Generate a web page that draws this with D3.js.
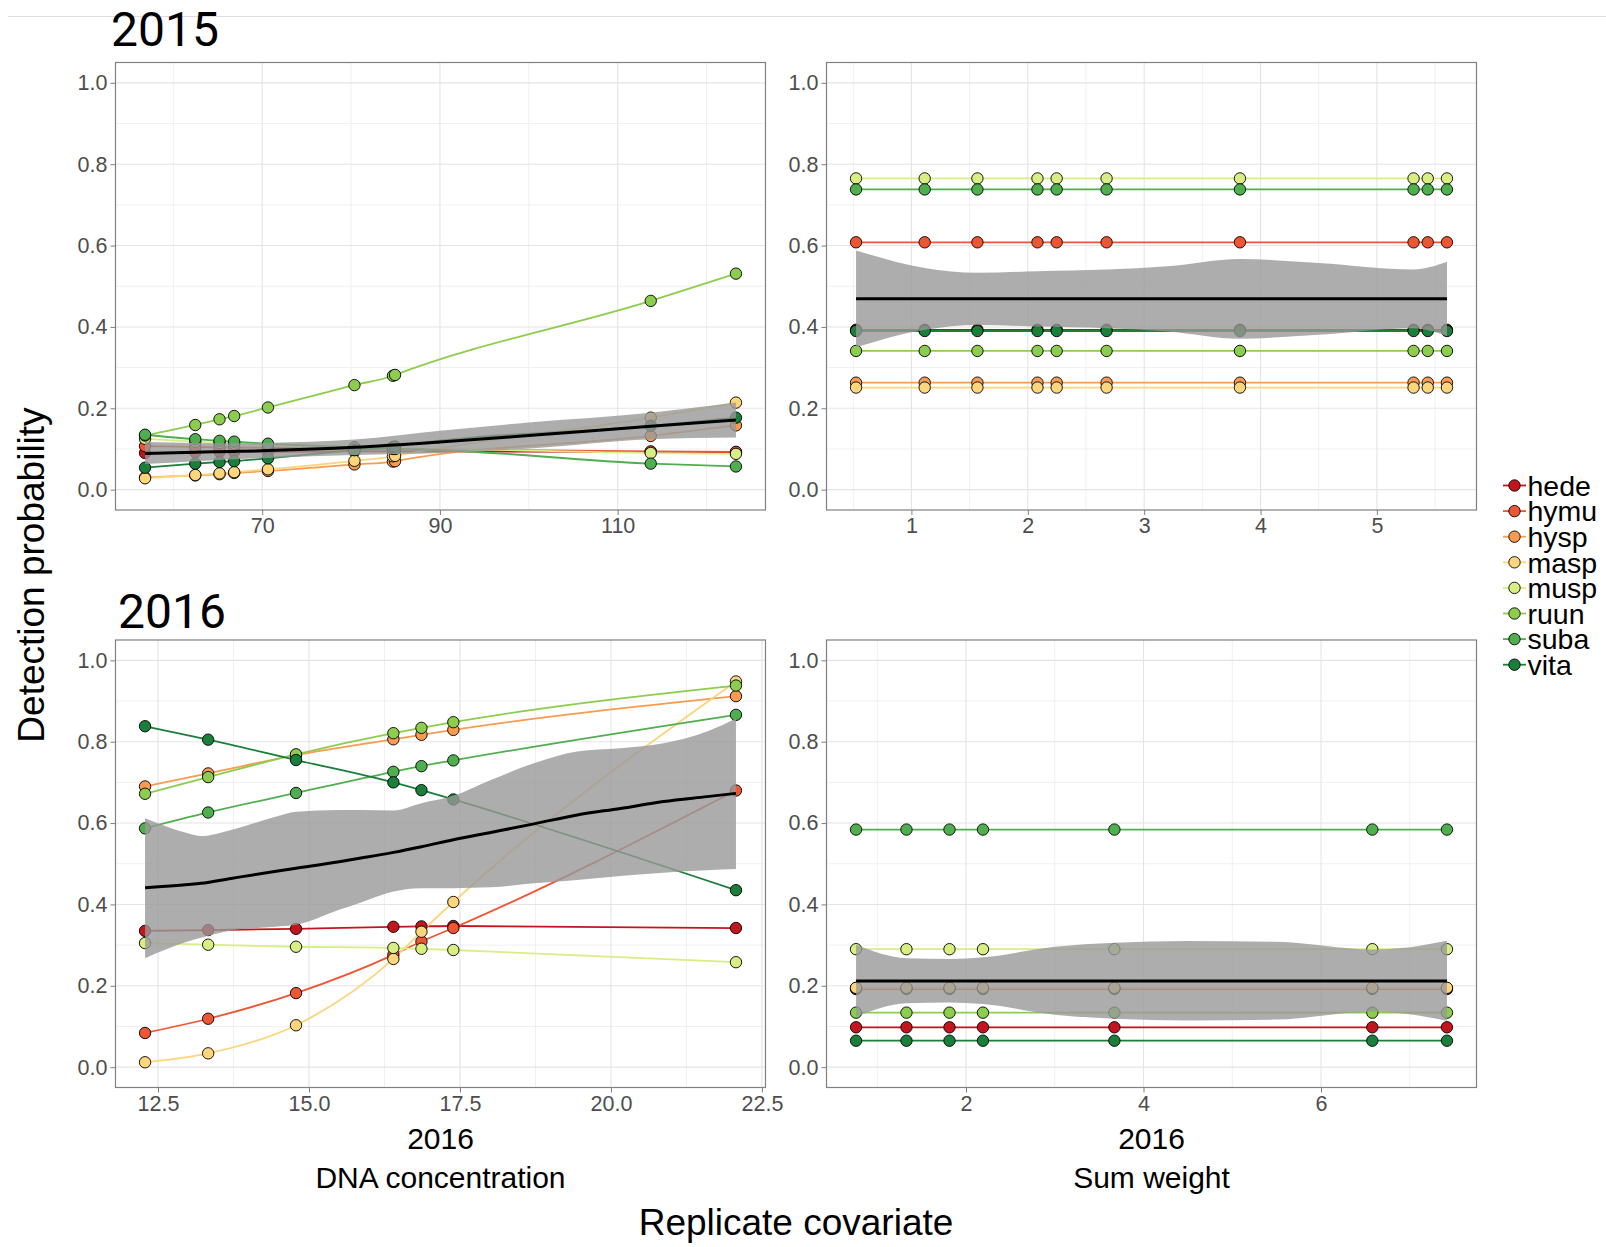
<!DOCTYPE html>
<html><head><meta charset="utf-8">
<script src="https://cdn.jsdelivr.net/npm/d3@7"></script>
<style>body{margin:0;background:#fff;} svg{display:block;}</style>
</head><body>
<svg id="chart" width="1606" height="1247"></svg>
<script>
// ---------------- DATA ----------------
const species = ["hede","hymu","hysp","masp","musp","ruun","suba","vita"];
const speciesColors = ["#c4151f","#ee5533","#f99b50","#fdd57a","#d8ee82","#8dcd4e","#4faf4f","#1a7f3a"];

const yTickValues = [0, 0.2, 0.4, 0.6, 0.8, 1.0];
const yMinorValues = [0.1, 0.3, 0.5, 0.7, 0.9];

// 2015 - DNA concentration
const dna2015X = [56.82, 62.47, 65.2, 66.85, 70.65, 80.38, 84.71, 84.95, 113.72, 123.31];
const dna2015Values = [
  [0.090, 0.092, 0.093, 0.093, 0.093, 0.094, 0.094, 0.094, 0.093, 0.092], // hede
  [0.107, 0.105, 0.104, 0.104, 0.103, 0.100, 0.099, 0.099, 0.094, 0.093], // hymu
  [0.030, 0.035, 0.038, 0.041, 0.046, 0.062, 0.069, 0.070, 0.132, 0.158], // hysp
  [0.028, 0.036, 0.040, 0.043, 0.050, 0.071, 0.082, 0.083, 0.177, 0.214], // masp
  [0.125, 0.118, 0.115, 0.113, 0.110, 0.104, 0.101, 0.101, 0.090, 0.088], // musp
  [0.133, 0.159, 0.173, 0.181, 0.202, 0.257, 0.280, 0.282, 0.464, 0.531], // ruun
  [0.135, 0.124, 0.120, 0.118, 0.113, 0.104, 0.100, 0.100, 0.064, 0.057], // suba
  [0.054, 0.064, 0.068, 0.070, 0.077, 0.097, 0.105, 0.106, 0.157, 0.177]  // vita
];
const dna2015SmoothX = [56.82, 62.47, 66.85, 70.65, 80.38, 90, 100, 113.72, 123.31];
const dna2015Fit   = [0.089, 0.092, 0.094, 0.096, 0.104, 0.117, 0.133, 0.156, 0.171];
const dna2015Upper = [0.117, 0.115, 0.114, 0.115, 0.123, 0.145, 0.165, 0.189, 0.214];
const dna2015Lower = [0.063, 0.070, 0.075, 0.078, 0.085, 0.090, 0.101, 0.124, 0.128];

// 2015 - Sum weight
const weight2015X = [0.524, 1.114, 1.567, 2.083, 2.248, 2.677, 3.823, 5.315, 5.437, 5.602];
const weight2015Values = [
  [0.393, 0.393, 0.393, 0.393, 0.393, 0.393, 0.393, 0.393, 0.393, 0.393], // hede
  [0.608, 0.608, 0.608, 0.608, 0.608, 0.608, 0.608, 0.608, 0.608, 0.608], // hymu
  [0.263, 0.263, 0.263, 0.263, 0.263, 0.263, 0.263, 0.263, 0.263, 0.263], // hysp
  [0.251, 0.251, 0.251, 0.251, 0.251, 0.251, 0.251, 0.251, 0.251, 0.251], // masp
  [0.765, 0.765, 0.765, 0.765, 0.765, 0.765, 0.765, 0.765, 0.765, 0.765], // musp
  [0.341, 0.341, 0.341, 0.341, 0.341, 0.341, 0.341, 0.341, 0.341, 0.341], // ruun
  [0.738, 0.738, 0.738, 0.738, 0.738, 0.738, 0.738, 0.738, 0.738, 0.738], // suba
  [0.390, 0.390, 0.390, 0.390, 0.390, 0.390, 0.390, 0.390, 0.390, 0.390]  // vita
];
const weight2015SmoothX = [0.524, 1.114, 1.567, 2.083, 2.677, 3.2, 3.823, 4.5, 5.315, 5.602];
const weight2015Fit   = [0.469, 0.469, 0.469, 0.469, 0.469, 0.469, 0.469, 0.469, 0.469, 0.469];
const weight2015Upper = [0.588, 0.545, 0.533, 0.537, 0.541, 0.549, 0.567, 0.557, 0.541, 0.560];
const weight2015Lower = [0.350, 0.393, 0.405, 0.401, 0.397, 0.389, 0.371, 0.381, 0.397, 0.378];

// 2016 - DNA concentration
const dna2016X = [12.285, 13.33, 14.785, 16.397, 16.862, 17.39, 22.07];
const dna2016Values = [
  [0.335, 0.337, 0.340, 0.345, 0.346, 0.347, 0.342], // hede
  [0.084, 0.119, 0.182, 0.276, 0.309, 0.342, 0.680], // hymu
  [0.690, 0.722, 0.767, 0.806, 0.817, 0.829, 0.912], // hysp
  [0.012, 0.034, 0.103, 0.266, 0.333, 0.406, 0.948], // masp
  [0.305, 0.301, 0.296, 0.293, 0.291, 0.288, 0.258], // musp
  [0.672, 0.713, 0.769, 0.821, 0.834, 0.848, 0.938], // ruun
  [0.587, 0.626, 0.674, 0.726, 0.740, 0.754, 0.866], // suba
  [0.838, 0.805, 0.755, 0.700, 0.681, 0.658, 0.435]  // vita
];
const dna2016SmoothX = [12.285, 12.994, 13.21, 13.71, 14.43, 14.785, 15.5, 15.86, 16.397, 16.862, 17.39, 18.01, 18.725, 19.44, 20.157, 20.87, 21.59, 22.07];
const dna2016Fit   = [0.441, 0.449, 0.452, 0.464, 0.481, 0.489, 0.505, 0.514, 0.528, 0.542, 0.559, 0.577, 0.598, 0.620, 0.636, 0.653, 0.665, 0.673];
const dna2016Upper = [0.612, 0.575, 0.568, 0.583, 0.615, 0.628, 0.632, 0.632, 0.631, 0.649, 0.667, 0.706, 0.747, 0.776, 0.784, 0.796, 0.825, 0.857];
const dna2016Lower = [0.268, 0.309, 0.318, 0.336, 0.345, 0.350, 0.387, 0.405, 0.432, 0.440, 0.440, 0.442, 0.452, 0.460, 0.470, 0.478, 0.484, 0.487];

// 2016 - Sum weight
const weight2016X = [0.761, 1.329, 1.814, 2.191, 3.672, 6.578, 7.419];
const weight2016Values = [
  [0.098, 0.098, 0.098, 0.098, 0.098, 0.098, 0.098], // hede
  [0.192, 0.192, 0.192, 0.192, 0.192, 0.192, 0.192], // hymu
  [0.194, 0.194, 0.194, 0.194, 0.194, 0.194, 0.194], // hysp
  [0.195, 0.195, 0.195, 0.195, 0.195, 0.195, 0.195], // masp
  [0.290, 0.290, 0.290, 0.290, 0.290, 0.290, 0.290], // musp
  [0.134, 0.134, 0.134, 0.134, 0.134, 0.134, 0.134], // ruun
  [0.584, 0.584, 0.584, 0.584, 0.584, 0.584, 0.584], // suba
  [0.065, 0.065, 0.065, 0.065, 0.065, 0.065, 0.065]  // vita
];
const weight2016SmoothX = [0.761, 1.329, 1.814, 2.191, 3.0, 3.672, 4.5, 5.5, 6.578, 6.87, 7.419];
const weight2016Fit   = [0.212, 0.212, 0.212, 0.212, 0.212, 0.212, 0.212, 0.212, 0.212, 0.212, 0.212];
const weight2016Upper = [0.301, 0.268, 0.266, 0.270, 0.296, 0.306, 0.310, 0.308, 0.289, 0.292, 0.311];
const weight2016Lower = [0.124, 0.157, 0.159, 0.155, 0.129, 0.119, 0.115, 0.117, 0.136, 0.133, 0.114];

const dna2015Ticks = [70, 90, 110], dna2015Minor = [60, 80, 100, 120];
const weight2015Ticks = [1, 2, 3, 4, 5], weight2015Minor = [0.5, 1.5, 2.5, 3.5, 4.5, 5.5];
const dna2016Ticks = [12.5, 15.0, 17.5, 20.0, 22.5], dna2016Minor = [13.75, 16.25, 18.75, 21.25];
const weight2016Ticks = [2, 4, 6], weight2016Minor = [1, 3, 5, 7];

// ---------------- LAYOUT ----------------
const W = 650, H = 447.5;
const tickFont = "'Liberation Sans', Arial, Helvetica, sans-serif";

const panels = [
  {left:115.5, top:62.5, xs:dna2015X, vals:dna2015Values, sx:dna2015SmoothX, fit:dna2015Fit, up:dna2015Upper, lo:dna2015Lower,
   ticks:dna2015Ticks, minor:dna2015Minor, fmt:d3.format("d")},
  {left:826.5, top:62.5, xs:weight2015X, vals:weight2015Values, sx:weight2015SmoothX, fit:weight2015Fit, up:weight2015Upper, lo:weight2015Lower,
   ticks:weight2015Ticks, minor:weight2015Minor, fmt:d3.format("d")},
  {left:115.5, top:640, xs:dna2016X, vals:dna2016Values, sx:dna2016SmoothX, fit:dna2016Fit, up:dna2016Upper, lo:dna2016Lower,
   ticks:dna2016Ticks, minor:dna2016Minor, fmt:d3.format(".1f")},
  {left:826.5, top:640, xs:weight2016X, vals:weight2016Values, sx:weight2016SmoothX, fit:weight2016Fit, up:weight2016Upper, lo:weight2016Lower,
   ticks:weight2016Ticks, minor:weight2016Minor, fmt:d3.format("d")}
];

const svg = d3.select("#chart");
svg.append("rect").attr("width",1606).attr("height",1247).attr("fill","#fff");
svg.append("line").attr("x1",8).attr("x2",1606).attr("y1",16.5).attr("y2",16.5)
  .attr("stroke","#dedede").attr("stroke-width",1);

const y = d3.scaleLinear().domain([-0.05, 1.05]).range([H, 0]);
const R = 5.7;

panels.forEach(p => {
  const ext = d3.extent(p.xs);
  const pad = (ext[1]-ext[0])*0.05;
  const x = d3.scaleLinear().domain([ext[0]-pad, ext[1]+pad]).range([0, W]);
  const g = svg.append("g").attr("transform", `translate(${p.left},${p.top})`);

  // grid
  g.selectAll(".ymin").data(yMinorValues).join("line")
    .attr("x1",0).attr("x2",W).attr("y1",d=>y(d)).attr("y2",d=>y(d))
    .attr("stroke","#f0f0f0").attr("stroke-width",1);
  g.selectAll(".xmin").data(p.minor).join("line")
    .attr("y1",0).attr("y2",H).attr("x1",d=>x(d)).attr("x2",d=>x(d))
    .attr("stroke","#f0f0f0").attr("stroke-width",1);
  g.selectAll(".ymaj").data(yTickValues).join("line")
    .attr("x1",0).attr("x2",W).attr("y1",d=>y(d)).attr("y2",d=>y(d))
    .attr("stroke","#e4e4e4").attr("stroke-width",1.1);
  g.selectAll(".xmaj").data(p.ticks).join("line")
    .attr("y1",0).attr("y2",H).attr("x1",d=>x(d)).attr("x2",d=>x(d))
    .attr("stroke","#e4e4e4").attr("stroke-width",1.1);

  // axes
  const ya = g.append("g").call(d3.axisLeft(y).tickValues(yTickValues).tickFormat(d3.format(".1f")).tickSize(5).tickPadding(3));
  ya.select(".domain").remove();
  ya.selectAll("line").attr("stroke","#7f7f7f");
  ya.selectAll("text").attr("fill","#4d4d4d").style("font-family",tickFont).style("font-size","21.5px");

  const xa = g.append("g").attr("transform",`translate(0,${H})`)
    .call(d3.axisBottom(x).tickValues(p.ticks).tickFormat(p.fmt).tickSize(5).tickPadding(3));
  xa.select(".domain").remove();
  xa.selectAll("line").attr("stroke","#7f7f7f");
  xa.selectAll("text").attr("fill","#4d4d4d").style("font-family",tickFont).style("font-size","21.5px");

  // species lines
  const line = d3.line().x(d=>x(d[0])).y(d=>y(d[1])).curve(d3.curveMonotoneX);
  p.vals.forEach((vals, i) => {
    const pts = p.xs.map((xv, j) => [xv, vals[j]]);
    g.append("path").attr("d", line(pts)).attr("fill","none")
      .attr("stroke", speciesColors[i]).attr("stroke-width", 1.8);
  });
  // points
  p.vals.forEach((vals, i) => {
    const pts = p.xs.map((xv, j) => [xv, vals[j]]);
    g.selectAll(null).data(pts).join("circle")
      .attr("cx", d=>x(d[0])).attr("cy", d=>y(d[1])).attr("r", R)
      .attr("fill", speciesColors[i]).attr("stroke","#000").attr("stroke-width",0.9);
  });

  // smoother ribbon + line
  const rib = p.sx.map((xv,j)=>({x:xv, lo:p.lo[j], up:p.up[j], fit:p.fit[j]}));
  g.append("path").datum(rib)
    .attr("d", d3.area().x(d=>x(d.x)).y0(d=>y(d.lo)).y1(d=>y(d.up)).curve(d3.curveMonotoneX))
    .attr("fill","#999999").attr("fill-opacity",0.8);
  g.append("path").datum(rib)
    .attr("d", d3.line().x(d=>x(d.x)).y(d=>y(d.fit)).curve(d3.curveMonotoneX))
    .attr("fill","none").attr("stroke","#000").attr("stroke-width",3);

  // border
  g.append("rect").attr("x",0).attr("y",0).attr("width",W).attr("height",H)
    .attr("fill","none").attr("stroke","#808080").attr("stroke-width",1.2);
});

// titles
const titleFont = "Roboto, 'Open Sans', sans-serif";
svg.append("text").attr("x",111).attr("y",46).text("2015")
  .style("font-family",titleFont).style("font-size","48px").attr("fill","#000");
svg.append("text").attr("x",118).attr("y",628).text("2016")
  .style("font-family",titleFont).style("font-size","48px").attr("fill","#000");

// bottom labels
const labFont = "'Liberation Sans', Arial, Helvetica, sans-serif";
[115.5 + W/2, 826.5 + W/2].forEach((cx, k) => {
  svg.append("text").attr("x",cx).attr("y",1149).attr("text-anchor","middle").text("2016")
    .style("font-family",labFont).style("font-size","30px").attr("fill","#000");
  svg.append("text").attr("x",cx).attr("y",1188).attr("text-anchor","middle")
    .text(k===0 ? "DNA concentration" : "Sum weight")
    .style("font-family",labFont).style("font-size","30px").attr("fill","#000");
});
svg.append("text").attr("x",796).attr("y",1235).attr("text-anchor","middle").text("Replicate covariate")
  .style("font-family",labFont).style("font-size","37px").attr("fill","#000");
svg.append("text").attr("transform","translate(44,575) rotate(-90)").attr("text-anchor","middle")
  .text("Detection probability")
  .style("font-family",labFont).style("font-size","37px").attr("fill","#000");

// legend
const lg = svg.append("g");
species.forEach((s, i) => {
  const cy = 485.5 + i*25.6;
  lg.append("line").attr("x1",1503).attr("x2",1526).attr("y1",cy).attr("y2",cy)
    .attr("stroke",speciesColors[i]).attr("stroke-width",1.8);
  lg.append("circle").attr("cx",1514.5).attr("cy",cy).attr("r",R)
    .attr("fill",speciesColors[i]).attr("stroke","#000").attr("stroke-width",0.9);
  lg.append("text").attr("x",1527.5).attr("y",cy).attr("dy","0.36em").text(s)
    .style("font-family",labFont).style("font-size","28.5px").attr("fill","#000");
});
</script>
</body></html>
